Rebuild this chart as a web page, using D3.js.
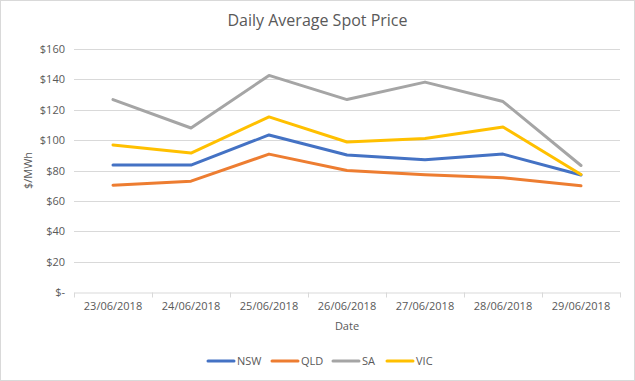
<!DOCTYPE html>
<html><head><meta charset="utf-8">
<script src="https://cdn.jsdelivr.net/npm/d3@7"></script>
<style>
body{margin:0;background:#fff;}
text{font-family:"Open Sans","Liberation Sans",sans-serif;fill:#595959;}
</style></head><body>
<svg id="c" width="635" height="381"></svg>
<script>
const dates = ["23/06/2018","24/06/2018","25/06/2018","26/06/2018","27/06/2018","28/06/2018","29/06/2018"];
const seriesNames = ["NSW","QLD","SA","VIC"];
const nsw = [83.6, 83.6, 103.4, 90.2, 87.1, 90.8, 77.0];
const qld = [70.3, 73.0, 90.8, 80.0, 77.2, 75.2, 69.9];
const sa  = [126.7, 108.0, 142.6, 126.7, 138.2, 125.4, 83.3];
const vic = [96.8, 91.5, 115.3, 98.8, 101.0, 108.7, 77.4];
const colors = ["#4472c4","#ed7d31","#a5a5a5","#ffc000"];
const yTicks = [0,20,40,60,80,100,120,140,160];
const title = "Daily Average Spot Price";
const yTitle = "$/MWh";
const xTitle = "Date";

const values = [nsw, qld, sa, vic];
const svg = d3.select("#c");
const W = 635, H = 381;
svg.append("rect").attr("x",0.5).attr("y",0.5).attr("width",W-1).attr("height",H-1)
  .attr("fill","#fff").attr("stroke","#d9d9d9");

const m = {left:74, right:620, top:49, bottom:292};
const x = d3.scaleBand().domain(dates).range([m.left, m.right]).padding(0);
const y = d3.scaleLinear().domain([0,160]).range([m.bottom, m.top]);

// gridlines
svg.append("g").selectAll("line").data(yTicks.filter(d=>d>0)).join("line")
  .attr("x1",m.left).attr("x2",m.right)
  .attr("y1",d=>Math.round(y(d))+0.5).attr("y2",d=>Math.round(y(d))+0.5)
  .attr("stroke","#d9d9d9").attr("stroke-width",1);

// y axis labels
const yAxis = d3.axisLeft(y).tickValues(yTicks).tickSize(0).tickPadding(9)
  .tickFormat(d=> d===0 ? "$-" : "$"+d);
const gy = svg.append("g").attr("transform",`translate(${m.left},0)`).call(yAxis);
gy.select(".domain").remove();
gy.selectAll("text").attr("font-size",11).attr("fill","#595959")
  .style("font-family",'"Open Sans","Liberation Sans",sans-serif');

// x axis
const xAxis = d3.axisBottom(x).tickSize(0).tickPadding(10);
const gx = svg.append("g").attr("transform",`translate(0,${Math.round(y(0))+0.5})`).call(xAxis);
gx.select(".domain").attr("stroke","#d9d9d9");
gx.selectAll("text").attr("font-size",11).attr("fill","#595959")
  .style("font-family",'"Open Sans","Liberation Sans",sans-serif');
// category boundary ticks
const bounds = dates.map(d=>x(d)).concat([x(dates[dates.length-1])+x.bandwidth()]);
gx.append("g").selectAll("line").data(bounds).join("line")
  .attr("x1",d=>Math.round(d)+0.5).attr("x2",d=>Math.round(d)+0.5)
  .attr("y1",0).attr("y2",5).attr("stroke","#d9d9d9");

// lines
const line = d3.line().x((d,i)=>x(dates[i])+x.bandwidth()/2).y(d=>y(d));
svg.append("g").selectAll("path").data(values).join("path")
  .attr("d",line).attr("fill","none")
  .attr("stroke",(d,i)=>colors[i]).attr("stroke-width",3)
  .attr("stroke-linejoin","round").attr("stroke-linecap","round");

// titles
svg.append("text").attr("x",W/2).attr("y",26).attr("text-anchor","middle")
  .attr("font-size",16).text(title);
svg.append("text").attr("transform",`translate(32,${(m.top+m.bottom)/2}) rotate(-90)`)
  .attr("text-anchor","middle").attr("font-size",11).text(yTitle);
svg.append("text").attr("x",(m.left+m.right)/2).attr("y",330).attr("text-anchor","middle")
  .attr("font-size",11).text(xTitle);

// legend
const legX = [208, 272, 333, 387];
const lg = svg.append("g").selectAll("g").data(seriesNames).join("g")
  .attr("transform",(d,i)=>`translate(${legX[i]},361)`);
lg.append("line").attr("x1",0).attr("x2",26).attr("y1",0).attr("y2",0)
  .attr("stroke",(d,i)=>colors[i]).attr("stroke-width",3).attr("stroke-linecap","round");
lg.append("text").attr("x",29).attr("y",4).attr("font-size",11).text(d=>d);
</script>
</body></html>
